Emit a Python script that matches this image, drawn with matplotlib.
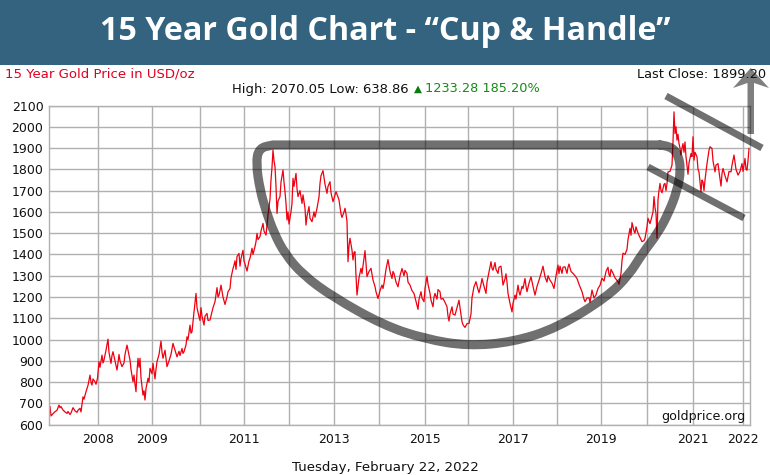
#!/usr/bin/env python3
import matplotlib
matplotlib.use('Agg')
import matplotlib.pyplot as plt
from matplotlib.patches import PathPatch, Polygon, Rectangle
from matplotlib.path import Path

W, H = 770, 475

# horizontal position of each reading along the time axis
gold_x = [50, 51, 53, 55, 57, 59, 60, 61, 63, 65, 67, 68, 70, 71, 73, 75, 77, 78, 80, 81,
          83, 84, 86, 88, 90, 91, 92, 93, 95, 96, 97.5, 99, 100, 102, 103, 104, 106, 108, 109, 111,
          112, 113, 115, 117, 118, 119, 120, 122, 124, 125, 127, 128, 130, 131, 133, 134, 135, 136, 137, 138,
          139, 140, 141, 143, 144, 145, 146, 148, 149, 150, 152, 153, 154, 155, 156, 157, 159, 161, 162, 163,
          165, 167, 169, 171, 173, 175, 177, 179, 180, 182, 183, 184, 186, 187, 188, 190, 191, 192, 194, 196,
          197, 199, 200, 201, 202, 204, 205, 207, 208, 210, 212, 213, 215, 216, 217, 218, 219, 220, 221, 223,
          225, 227, 228, 230, 231, 233, 234, 235, 236, 237, 239, 240, 241, 243, 244, 245, 247, 249, 250, 252,
          253, 255, 256, 257, 258, 260, 261, 263, 264, 266, 267, 268, 270, 271, 272, 273, 274, 275, 276, 277,
          278, 280, 281, 283, 284, 285, 286, 287, 288, 289, 291, 292, 293, 294, 296, 297, 298, 300, 302, 303,
          305, 306, 307, 309, 310, 312, 314, 315, 317, 319, 320, 321, 323, 325, 327, 328, 330, 331, 333, 335,
          336, 338, 339, 341, 342, 344, 345, 346, 347, 348, 349, 350, 352, 353, 354, 355, 356, 357, 359, 361,
          362, 364, 365, 366, 367, 369, 371, 373, 375, 376, 378, 380, 382, 383, 384, 386, 388, 390, 392, 393,
          394, 396, 398, 400, 402, 404, 405, 407, 408, 410, 412, 414, 416, 418, 419, 421, 422, 424, 425, 427,
          428, 430, 431, 433, 434, 435, 437, 438, 440, 441, 443, 445, 447, 448, 449, 450, 452, 453, 455, 457,
          459, 460, 462, 463, 465, 467, 469, 471, 472, 474, 476, 478, 479, 481, 482, 484, 486, 487, 489, 491,
          492, 493, 495, 496, 498, 499, 501, 502, 503, 505, 506, 507, 508, 510, 512, 513, 515, 516, 518, 519,
          520, 522, 523, 525, 526, 527, 529, 531, 533, 535, 537, 539, 541, 543, 544, 545, 547, 548, 550, 552,
          554, 556, 558, 559, 560, 562, 563, 565, 567, 568, 569, 571, 573, 575, 577, 579, 582, 584, 585, 587,
          589, 590, 592, 594, 596, 598, 600, 602, 604, 606, 608, 609, 610, 611, 613, 615, 618, 619, 621, 622,
          623, 625, 627, 628, 630, 631, 632, 634, 635, 636, 638, 640, 642, 644, 645, 647, 648, 650, 651, 653,
          654, 655, 656, 657, 658, 659, 660, 661, 662, 664, 665, 666, 667, 668, 670, 672, 673, 674, 675, 676,
          677, 678, 679, 680, 681, 682, 683, 684, 685, 686, 687, 688, 689, 691, 692, 693, 694, 695, 697, 698,
          699, 700, 701, 702, 703, 704, 705, 706, 707, 709, 710, 712, 713, 715, 716, 718, 719, 721, 722, 723,
          725, 727, 729, 731, 732, 734, 736, 738, 740, 742, 743, 745, 746, 747, 748, 749]
gold_price = [685, 641, 652, 661, 668, 692, 680, 685, 669, 660, 653, 662, 648, 655, 680, 665, 658, 668, 677, 660,
              731, 720, 755, 785, 833, 800, 786, 815, 802, 790, 818, 896, 870, 927, 890, 904, 950, 1002, 940, 888,
              925, 943, 900, 857, 890, 930, 900, 873, 890, 930, 974, 950, 904, 860, 802, 833, 790, 755, 850, 912,
              870, 912, 820, 739, 760, 716, 770, 818, 800, 865, 840, 888, 850, 815, 860, 896, 930, 993, 940, 912,
              950, 873, 900, 930, 982, 950, 919, 945, 925, 958, 935, 943, 975, 1013, 1000, 1068, 1030, 1037, 1130, 1217,
              1150, 1107, 1090, 1150, 1110, 1068, 1110, 1123, 1090, 1092, 1130, 1150, 1178, 1210, 1244, 1200, 1209, 1230, 1256, 1200,
              1165, 1200, 1225, 1240, 1290, 1334, 1350, 1370, 1330, 1390, 1405, 1345, 1380, 1420, 1370, 1355, 1322, 1370, 1382, 1429,
              1400, 1437, 1460, 1499, 1470, 1484, 1510, 1546, 1510, 1491, 1540, 1585, 1660, 1750, 1810, 1891, 1840, 1813, 1720, 1593,
              1650, 1672, 1740, 1797, 1740, 1695, 1640, 1562, 1600, 1543, 1600, 1640, 1758, 1720, 1781, 1710, 1672, 1700, 1640, 1680,
              1617, 1538, 1580, 1625, 1570, 1554, 1600, 1575, 1617, 1670, 1734, 1770, 1794, 1730, 1687, 1720, 1742, 1690, 1648, 1680,
              1695, 1670, 1656, 1590, 1574, 1600, 1617, 1590, 1554, 1366, 1440, 1476, 1420, 1374, 1410, 1413, 1300, 1209, 1290, 1335,
              1310, 1380, 1418, 1360, 1296, 1320, 1335, 1280, 1249, 1225, 1193, 1230, 1256, 1240, 1264, 1330, 1376, 1320, 1287, 1320,
              1311, 1270, 1248, 1300, 1334, 1300, 1325, 1311, 1270, 1256, 1230, 1217, 1180, 1142, 1190, 1225, 1195, 1178, 1240, 1298,
              1260, 1217, 1185, 1154, 1200, 1217, 1190, 1235, 1225, 1190, 1193, 1175, 1154, 1110, 1087, 1120, 1154, 1120, 1115, 1150,
              1185, 1150, 1084, 1070, 1057, 1075, 1076, 1120, 1197, 1248, 1272, 1235, 1220, 1260, 1287, 1250, 1217, 1270, 1318, 1366,
              1335, 1326, 1362, 1330, 1311, 1340, 1345, 1300, 1256, 1285, 1309, 1270, 1217, 1170, 1130, 1170, 1209, 1190, 1256, 1225,
              1209, 1250, 1240, 1287, 1250, 1225, 1265, 1295, 1250, 1209, 1250, 1279, 1310, 1345, 1320, 1295, 1270, 1300, 1279, 1265,
              1240, 1300, 1350, 1310, 1345, 1311, 1340, 1342, 1311, 1340, 1355, 1320, 1311, 1300, 1287, 1260, 1225, 1190, 1178, 1195,
              1197, 1175, 1233, 1195, 1210, 1240, 1255, 1288, 1275, 1320, 1340, 1305, 1296, 1330, 1312, 1290, 1272, 1260, 1312, 1370,
              1406, 1400, 1424, 1470, 1523, 1490, 1550, 1510, 1500, 1530, 1500, 1480, 1460, 1465, 1476, 1530, 1570, 1545, 1562, 1600,
              1672, 1620, 1593, 1476, 1656, 1700, 1734, 1700, 1690, 1730, 1734, 1700, 1733, 1788, 1790, 1820, 1929, 2070, 1968, 2000,
              1937, 1965, 1921, 1900, 1867, 1900, 1921, 1880, 1929, 1859, 1820, 1777, 1830, 1874, 1860, 1953, 1843, 1880, 1859, 1800,
              1788, 1740, 1694, 1750, 1741, 1700, 1749, 1790, 1827, 1890, 1906, 1898, 1840, 1788, 1820, 1827, 1790, 1721, 1780, 1804,
              1770, 1741, 1790, 1788, 1820, 1867, 1800, 1773, 1790, 1827, 1790, 1851, 1800, 1796, 1840, 1898]

price_ticks = list(range(600, 2101, 100))
# gridlines along the time axis; only some carry a label
grid_x = [98, 152, 200, 244, 289, 334, 379, 424.5, 468, 513, 556.5, 601, 647, 692.5, 742.5]
grid_labels = ['2008', '2009', '', '2011', '', '2013', '', '2015', '', '2017', '', '2019', '', '2021', '2022']

# hand drawn overlay, in picture pixels
cup_points = [(660, 145), (670, 146), (678, 154), (681, 170), (677, 191), (669, 212), (658, 233), (642, 254),
              (629, 275), (607, 297), (557, 328), (513, 342), (468, 346), (425, 339), (383, 325), (333, 297),
              (303, 275), (285, 254), (274, 233), (266, 211), (260, 190), (256, 163), (259, 148), (273, 145)]
upper_handle = [(666, 96), (762, 148)]
lower_handle = [(648, 167), (744, 218)]
arrow_outline = [(750.7, 68), (769, 88), (754, 83), (754, 134), (747.5, 134), (747.5, 83), (733, 88)]

plt.rcParams['font.family'] = ['DejaVu Sans']
fig = plt.figure(figsize=(W / 100, H / 100), dpi=100)


def label(x, y, s, **kwargs):
    kwargs.setdefault('fontsize', 9.4)
    kwargs.setdefault('va', 'center')
    kwargs.setdefault('zorder', 6)
    fig.text(x / W, 1 - y / H, s, **kwargs)


ax = fig.add_axes([49 / W, 1 - 424.7 / H, 700.5 / W, 319.2 / H])
ax.plot(gold_x, gold_price, color='#f00010', lw=0.9, solid_joinstyle='round')
ax.set_xlim(49, 749.5)
ax.set_ylim(600, 2100)
ax.set_yticks(price_ticks)
ax.set_xticks(grid_x)
ax.set_xticklabels(grid_labels)
ax.grid(True, color='#b0b0b0', lw=1.0)
ax.set_axisbelow(True)
ax.tick_params(length=0, labelsize=9.0, colors='#111111', pad=4)
ax.tick_params(axis='x', pad=6)
for spine in ax.spines.values():
    spine.set_color('#b0b0b0')
    spine.set_linewidth(1.0)

# top banner and overlay share one pixel-space axes
over = fig.add_axes([0, 0, 1, 1], facecolor='none')
over.set_zorder(5)
over.set_xlim(0, W)
over.set_ylim(H, 0)
over.axis('off')
over.add_patch(Rectangle((0, 0), W, 65, color='#33637f', lw=0))

codes = [Path.MOVETO]
verts = [cup_points[0]]
for a, b in zip(cup_points[1:-1], cup_points[2:]):
    codes += [Path.CURVE3, Path.CURVE3]
    verts += [a, ((a[0] + b[0]) / 2, (a[1] + b[1]) / 2)]
codes.append(Path.LINETO)
verts.append(cup_points[-1])
# the flat rim closes the cup
codes.append(Path.LINETO)
verts.append(cup_points[0])
over.add_patch(PathPatch(Path(verts, codes), fill=False, ec='black', lw=6.6, alpha=0.56,
                         capstyle='round', joinstyle='round'))

for seg in (upper_handle, lower_handle):
    xs, ys = zip(*seg)
    over.plot(xs, ys, color='black', lw=5.0, alpha=0.56, solid_capstyle='butt')
over.add_patch(Polygon(arrow_outline, closed=True, color='black', alpha=0.5, lw=0))

label(385, 32, '15 Year Gold Chart - \u201cCup & Handle\u201d', color='white', fontsize=23.2,
      fontweight='bold', family='Open Sans', ha='center')
label(5, 74, '15 Year Gold Price in USD/oz', color='#e00020', fontsize=9.5)
label(766.5, 74, 'Last Close: 1899.20', color='#111111', ha='right')
label(232, 89, 'High: 2070.05 Low: 638.86', color='#111111', fontsize=9.45)
label(414, 89, '\u25b2', color='#0a7a0a', fontsize=7.5)
label(425, 89, '1233.28 185.20%', color='#148a14', fontsize=9.25)
label(746, 416.5, 'goldprice.org', color='#111111', ha='right', fontsize=9.1)
label(385, 467, 'Tuesday, February 22, 2022', color='#111111', ha='center', fontsize=9.6)

fig.savefig('out.png', dpi=100)
